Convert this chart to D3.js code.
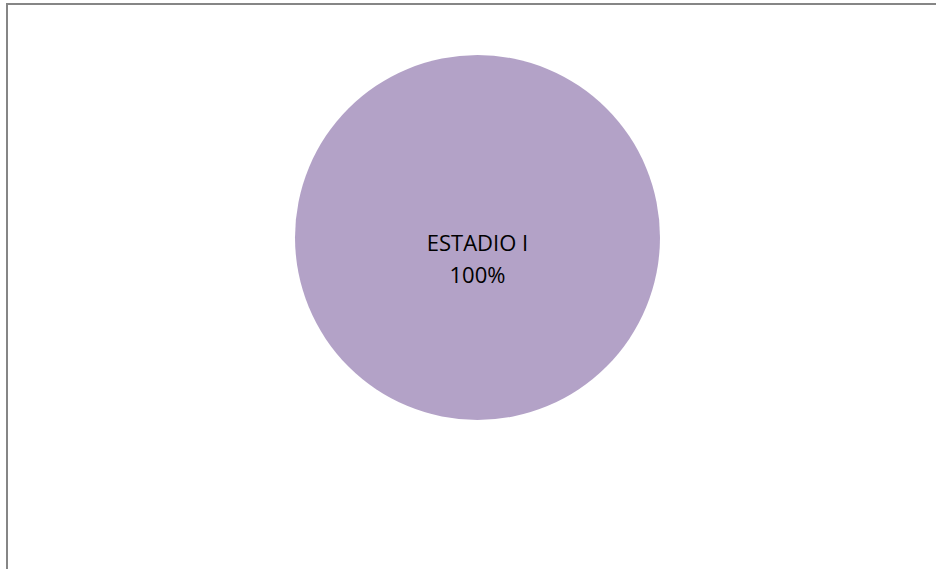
<!DOCTYPE html>
<html>
<head>
<meta charset="utf-8">
<script src="https://cdn.jsdelivr.net/npm/d3@7"></script>
<style>
  html, body { margin: 0; padding: 0; background: #fff; }
  svg { display: block; }
</style>
</head>
<body>
<div id="chart"></div>
<script>
// Datos del gráfico
const categories = ["ESTADIO I"];
const values = [100];
const sliceColors = ["#b3a2c7"];

const width = 936;
const height = 569;

const svg = d3.select("#chart")
  .append("svg")
  .attr("width", width)
  .attr("height", height);

// Marco del área del gráfico (se sale por la derecha y abajo)
svg.append("rect")
  .attr("x", 7)
  .attr("y", 4)
  .attr("width", width + 20)
  .attr("height", height + 20)
  .attr("fill", "none")
  .attr("stroke", "#868686")
  .attr("stroke-width", 2);

const cx = 477.5, cy = 237.5, radius = 182.5;

const pie = d3.pie().sort(null).value((d) => d);
const arc = d3.arc().innerRadius(0).outerRadius(radius);

const g = svg.append("g").attr("transform", `translate(${cx},${cy})`);

const arcs = pie(values);

g.selectAll("path.slice")
  .data(arcs)
  .enter()
  .append("path")
  .attr("class", "slice")
  .attr("d", arc)
  .attr("fill", (d, i) => sliceColors[i]);

// Etiquetas: categoría y porcentaje
const total = d3.sum(values);
const labels = g.selectAll("text.label")
  .data(arcs)
  .enter()
  .append("text")
  .attr("class", "label")
  .attr("transform", (d) => {
    // un solo sector de 100%: etiqueta en el centro
    if (d.endAngle - d.startAngle >= 2 * Math.PI - 1e-6) return "translate(0,0)";
    return `translate(${arc.centroid(d)})`;
  })
  .attr("text-anchor", "middle")
  .attr("font-family", "'Open Sans', 'Liberation Sans', sans-serif")
  .attr("font-size", "22px")
  .attr("fill", "#000");

labels.append("tspan")
  .attr("x", 0)
  .attr("y", 13.5)
  .text((d, i) => categories[i]);

labels.append("tspan")
  .attr("x", 0)
  .attr("y", 45)
  .text((d) => Math.round((d.value / total) * 100) + "%");
</script>
</body>
</html>
